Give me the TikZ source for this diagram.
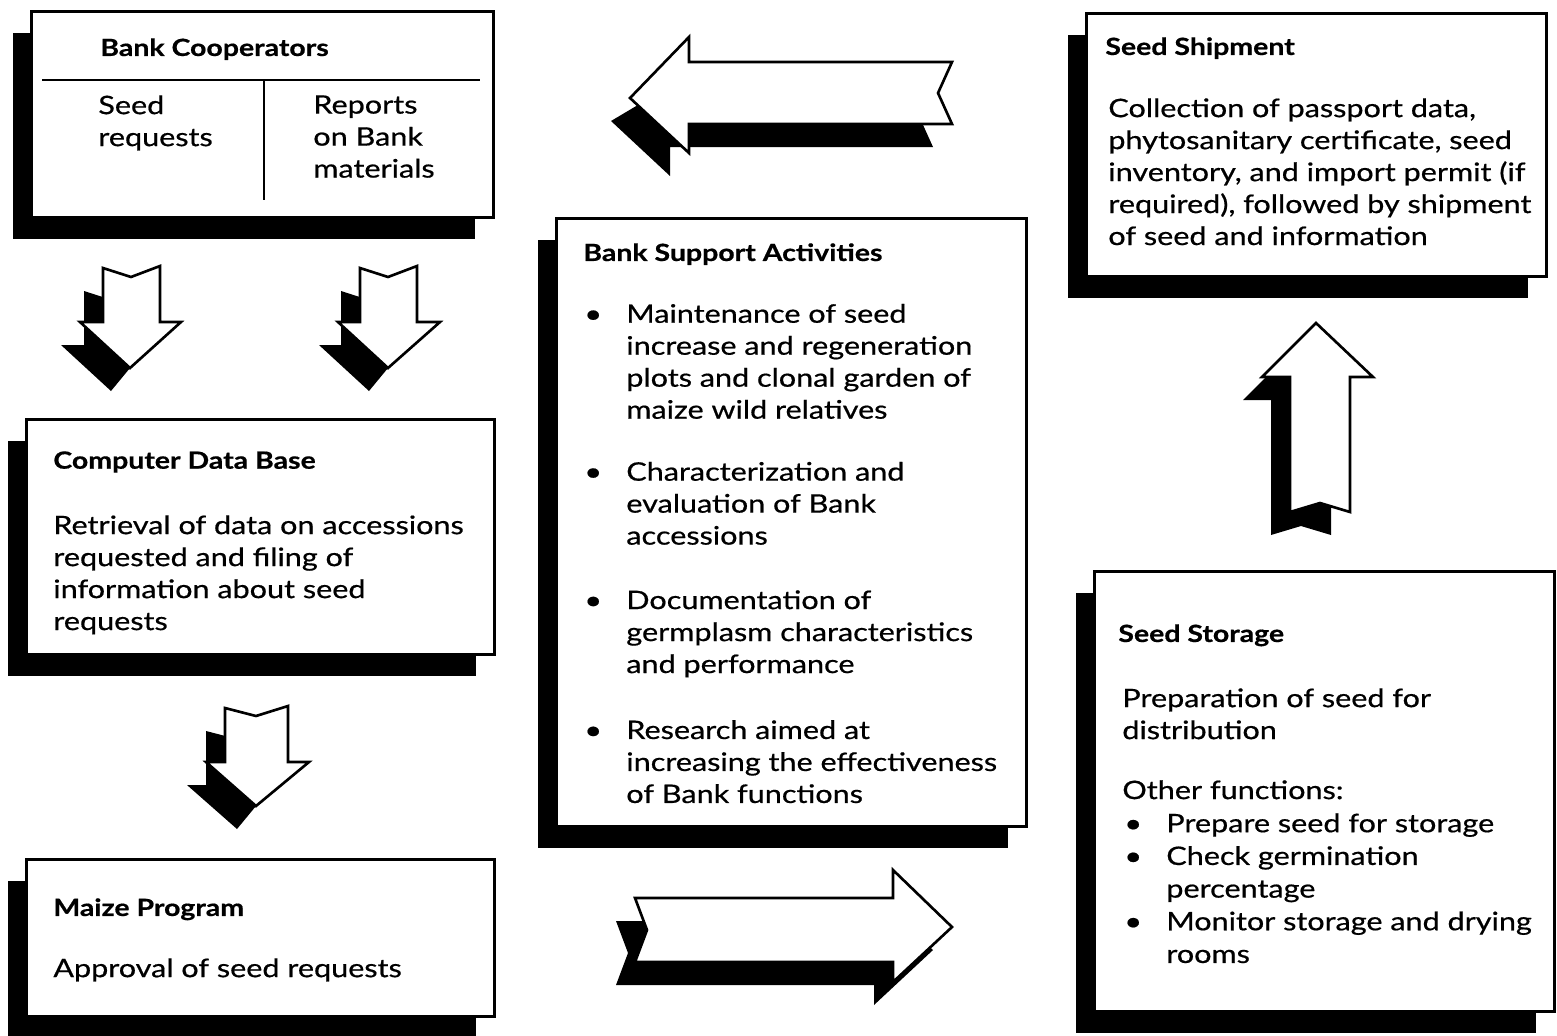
\documentclass[tikz,border=0pt]{standalone}
\usepackage{fontspec}
\setmainfont{Lato}[FakeStretch=1.2, FakeBold=0.6]
\usetikzlibrary{shadows}

\tikzset{
  box/.style={draw, line width=1.6pt, fill=white, anchor=north west, inner sep=0pt,
    drop shadow={shadow xshift=-0.36cm, shadow yshift=-0.44cm, fill=black, opacity=1}},
  txt/.style={anchor=north west, inner sep=0pt, align=left, font=\fontsize{14.5}{18.2}\selectfont},
  headtxt/.style={txt, font=\fontsize{13.5}{18.2}\selectfont\bfseries},
  arrowshadow/.style={fill=black},
  arrowbody/.style={fill=white, draw, line width=1.5pt, line join=miter},
}
% big outlined arrow: shadow first, then the white body
\newcommand{\blockarrow}[2]{\fill[arrowshadow] #1; \filldraw[arrowbody] #2;}

\begin{document}
\begin{tikzpicture}[x=0.02cm, y=-0.02cm]
  \useasboundingbox (0,0) rectangle (1557,1035);
  \fill[white] (0,0) rectangle (1557,1035);

  % boxes
  \node[box, minimum width=9.24cm, minimum height=4.12cm] (coop) at (30,10) {};
  \node[box, minimum width=9.36cm, minimum height=4.7cm] (cdb) at (25,418) {};
  \node[box, minimum width=9.36cm, minimum height=3.14cm] (maize) at (25,858) {};
  \node[box, minimum width=9.4cm, minimum height=12.16cm] (support) at (555,217) {};
  \node[box, minimum width=9.2cm, minimum height=5.26cm] (ship) at (1085,12) {};
  \node[box, minimum width=9.2cm, minimum height=8.8cm] (store) at (1093,570) {};

  % Bank Cooperators
  \node[headtxt] (coophd) at (100,38) {Bank Cooperators};
  \draw[line width=1.6pt] (42,80) -- (480,80);
  \draw[line width=1.3pt] (264,80) -- (264,200);
  \node[txt] (coopreq) at (98,95) {Seed\\requests};
  \node[txt] (coopreport) at (313,95) {Reports\\on Bank\\materials};

  % Computer Data Base
  \node[headtxt] (cdbhd) at (53,451) {Computer Data Base};
  \node[txt] (cdbtxt) at (53,515) {Retrieval of data on accessions\\requested and filing of\\information about seed\\requests};

  % Maize Program
  \node[headtxt] (maizehd) at (53,898) {Maize Program};
  \node[txt] (maizetxt) at (53,958) {Approval of seed requests};

  % Bank Support Activities
  \node[headtxt] (supporthd) at (583,243) {Bank Support Activities};
  \node[txt] (supportlist) at (584,300) {\begin{tabular}{@{}p{0.84cm}@{}l@{}}
    \textbullet & Maintenance of seed\\
    & increase and regeneration\\
    & plots and clonal garden of\\
    & maize wild relatives\\[0.6cm]
    \textbullet & Characterization and\\
    & evaluation of Bank\\
    & accessions\\[0.65cm]
    \textbullet & Documentation of\\
    & germplasm characteristics\\
    & and performance\\[0.68cm]
    \textbullet & Research aimed at\\
    & increasing the effectiveness\\
    & of Bank functions
  \end{tabular}};

  % Seed Shipment
  \node[headtxt] (shiphd) at (1105,37) {Seed Shipment};
  \node[txt] (shiptxt) at (1108,98) {Collection of passport data,\\phytosanitary certificate, seed\\inventory, and import permit (if\\required), followed by shipment\\of seed and information};

  % Seed Storage
  \node[headtxt] (storehd) at (1118,624) {Seed Storage};
  \node[txt] (storetxt) at (1122,688) {Preparation of seed for\\distribution\\[0.56cm]Other functions:};
  \node[txt, font=\fontsize{14.5}{18.6}\selectfont] (storelist) at (1124,809) {\begin{tabular}{@{}p{0.84cm}@{}l@{}}
    \textbullet & Prepare seed for storage\\
    \textbullet & Check germination\\
    & percentage\\
    \textbullet & Monitor storage and drying\\
    & rooms
  \end{tabular}};

  % arrows
  \blockarrow{(611,121) -- (680,80) -- (933,85) -- (919,116) -- (933,147) -- (670,147) -- (670,176) -- cycle}
             {(630,98) -- (689,37) -- (689,62) -- (952,62) -- (938,93) -- (952,124) -- (689,124) -- (689,153) -- cycle}
  \blockarrow{(616,921) -- (900,921) -- (933,950) -- (874,1005) -- (874,985) -- (616,985) -- (628,953) -- cycle}
             {(635,898) -- (893,898) -- (893,870) -- (952,927) -- (893,982) -- (893,962) -- (635,962) -- (647,930) -- cycle}
  \blockarrow{(84,291) -- (112,300) -- (141,289) -- (141,330) -- (130,368) -- (111,391) -- (61,345) -- (84,345) -- cycle}
             {(103,268) -- (131,277) -- (160,266) -- (160,322) -- (181,322) -- (130,368) -- (80,322) -- (103,322) -- cycle}
  \blockarrow{(341,291) -- (369,300) -- (398,289) -- (398,330) -- (388,368) -- (369,391) -- (319,345) -- (341,345) -- cycle}
             {(360,268) -- (388,277) -- (417,266) -- (417,322) -- (440,322) -- (388,368) -- (338,322) -- (360,322) -- cycle}
  \blockarrow{(206,731) -- (237,739) -- (269,729) -- (269,770) -- (256,806) -- (237,829) -- (187,785) -- (206,785) -- cycle}
             {(225,708) -- (256,716) -- (288,706) -- (288,762) -- (309,762) -- (256,806) -- (206,762) -- (225,762) -- cycle}
  \blockarrow{(1297,346) -- (1331,400) -- (1331,535) -- (1301,526) -- (1271,535) -- (1271,400) -- (1243,400) -- cycle}
             {(1316,323) -- (1373,377) -- (1350,377) -- (1350,512) -- (1320,503) -- (1290,512) -- (1290,377) -- (1262,377) -- cycle}
\end{tikzpicture}
\end{document}
